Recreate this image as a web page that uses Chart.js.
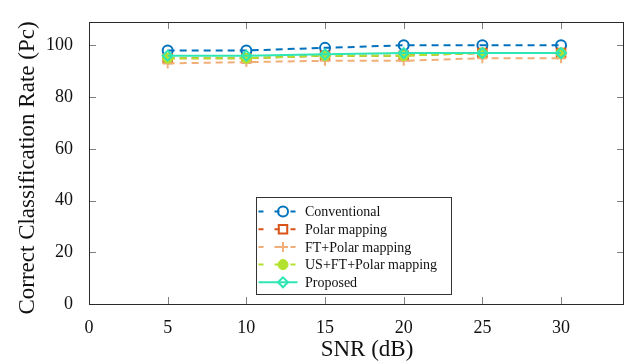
<!DOCTYPE html>
<html>
<head>
<meta charset="utf-8">
<script src="https://cdn.jsdelivr.net/npm/chart.js@4/dist/chart.umd.min.js"></script>
<style>
  html, body { margin: 0; padding: 0; background: #ffffff; }
  #wrap { width: 626px; height: 363px; position: relative; }
</style>
</head>
<body>
<div id="wrap"><canvas id="c"></canvas></div>
<script>
// SNR sweep (dB) and classification rates per method
const snr = [5, 10, 15, 20, 25, 30];
const conventional = [98, 98, 99, 100, 100, 100];
const polarMapping = [95, 95, 96, 96, 97, 97];
const ftPolarMapping = [93, 93.5, 94, 94, 95, 95];
const usFtPolarMapping = [95, 95, 96, 96, 97, 97];
const proposed = [96, 96, 96.5, 97, 97, 97];

const seriesNames = ['Conventional', 'Polar mapping', 'FT+Polar mapping', 'US+FT+Polar mapping', 'Proposed'];
const xTitle = 'SNR (dB)';
const yTitle = 'Correct Classification Rate (Pc)';

const SERIF = '"Liberation Serif", "DejaVu Serif", serif';

function pts(values) {
  return snr.map((x, i) => ({ x: x, y: values[i] }));
}

const datasets = [
  {
    label: seriesNames[0], data: pts(conventional),
    borderColor: '#0072BD', borderWidth: 2, borderDash: [7, 5],
    pointStyle: 'circle', pointRadius: 5, pointBorderWidth: 2,
    pointBorderColor: '#0072BD', pointBackgroundColor: 'rgba(0,0,0,0)', order: 5
  },
  {
    label: seriesNames[1], data: pts(polarMapping),
    borderColor: '#D95319', borderWidth: 2, borderDash: [7, 5],
    pointStyle: 'rect', pointRadius: 6, pointBorderWidth: 2,
    pointBorderColor: '#D95319', pointBackgroundColor: 'rgba(0,0,0,0)', order: 4
  },
  {
    label: seriesNames[2], data: pts(ftPolarMapping),
    borderColor: '#F2AE78', borderWidth: 2, borderDash: [7, 5],
    pointStyle: 'cross', pointRadius: 5, pointBorderWidth: 2,
    pointBorderColor: '#F2AE78', pointBackgroundColor: '#F2AE78', order: 3
  },
  {
    label: seriesNames[3], data: pts(usFtPolarMapping),
    borderColor: '#B2E22E', borderWidth: 2, borderDash: [7, 5],
    pointStyle: 'circle', pointRadius: 5, pointBorderWidth: 1,
    pointBorderColor: '#B2E22E', pointBackgroundColor: '#B2E22E', order: 2
  },
  {
    label: seriesNames[4], data: pts(proposed),
    borderColor: '#2EE6B4', borderWidth: 2, borderDash: [],
    pointStyle: 'rectRot', pointRadius: 5, pointBorderWidth: 2,
    pointBorderColor: '#2EE6B4', pointBackgroundColor: 'rgba(0,0,0,0)', order: 1
  }
];

// Frame, inward tick marks on all four sides, boxed legend and axis titles
const decorations = {
  id: 'decorations',
  afterDraw(chart) {
    const ctx = chart.ctx;
    const a = chart.chartArea;
    const xs = chart.scales.x, ys = chart.scales.y;
    ctx.save();

    // inward ticks
    ctx.strokeStyle = 'rgba(0,0,0,0.5)';
    ctx.lineWidth = 1;
    ctx.setLineDash([]);
    const tl = 7;
    xs.ticks.forEach(t => {
      const px = Math.round(xs.getPixelForValue(t.value)) + 0.5;
      ctx.beginPath();
      ctx.moveTo(px, a.bottom); ctx.lineTo(px, a.bottom - tl);
      ctx.moveTo(px, a.top); ctx.lineTo(px, a.top + tl);
      ctx.stroke();
    });
    ys.ticks.forEach(t => {
      const py = Math.round(ys.getPixelForValue(t.value)) + 0.5;
      ctx.beginPath();
      ctx.moveTo(a.left, py); ctx.lineTo(a.left + tl, py);
      ctx.moveTo(a.right, py); ctx.lineTo(a.right - tl, py);
      ctx.stroke();
    });

    // frame
    ctx.strokeStyle = '#2a2a2a';
    ctx.lineWidth = 1;
    ctx.strokeRect(Math.round(a.left) + 0.5, Math.round(a.top) + 0.5,
                   Math.round(a.right - a.left) - 1, Math.round(a.bottom - a.top));

    // legend
    const bx = 256.5, by = 197.5, bw = 195, bh = 97;
    ctx.fillStyle = '#ffffff';
    ctx.fillRect(bx, by, bw, bh);
    ctx.strokeStyle = '#333333';
    ctx.strokeRect(bx, by, bw, bh);
    ctx.font = '14px ' + SERIF;
    ctx.textBaseline = 'middle';
    ctx.textAlign = 'left';
    chart.data.datasets.forEach((ds, i) => {
      const ry = 211.5 + i * 17.7;
      ctx.save();
      ctx.strokeStyle = ds.borderColor;
      ctx.lineWidth = ds.borderWidth;
      ctx.setLineDash(ds.borderDash.length ? [5, 11] : []);
      ctx.beginPath();
      ctx.moveTo(bx + 2, ry);
      ctx.lineTo(bx + 41, ry);
      ctx.stroke();
      ctx.setLineDash([]);
      ctx.strokeStyle = ds.pointBorderColor;
      ctx.fillStyle = ds.pointBackgroundColor;
      ctx.lineWidth = ds.pointBorderWidth;
      Chart.helpers.drawPoint(ctx, {
        pointStyle: ds.pointStyle, radius: ds.pointRadius,
        borderWidth: ds.pointBorderWidth, rotation: 0
      }, bx + 26.5, ry);
      ctx.restore();
      ctx.fillStyle = '#111111';
      ctx.fillText(ds.label, 305, ry + 1);
    });

    // axis titles
    ctx.fillStyle = '#111111';
    ctx.textAlign = 'center';
    ctx.textBaseline = 'middle';
    ctx.font = '23px ' + SERIF;
    ctx.fillText(xTitle, 367, 350);
    ctx.save();
    ctx.translate(28, 168);
    ctx.rotate(-Math.PI / 2);
    ctx.fillText(yTitle, 0, 0);
    ctx.restore();

    ctx.restore();
  }
};

new Chart(document.getElementById('c'), {
  type: 'line',
  data: { datasets: datasets },
  plugins: [decorations],
  options: {
    responsive: true,
    maintainAspectRatio: false,
    animation: false,
    events: [],
    layout: { autoPadding: false, padding: { top: 22, right: 2, bottom: 0, left: 0 } },
    plugins: { legend: { display: false }, tooltip: { enabled: false } },
    scales: {
      x: {
        type: 'linear', min: 0, max: 34,
        grid: { display: false },
        border: { display: false },
        ticks: {
          stepSize: 5, includeBounds: false, maxRotation: 0, autoSkip: false,
          padding: 5, color: '#111111', font: { family: SERIF, size: 18 }
        },
        afterFit(s) { s.height = 59; s.paddingLeft = 0; s.paddingRight = 0; }
      },
      y: {
        type: 'linear', min: 0, max: 109,
        grid: { display: false },
        border: { display: false },
        ticks: {
          stepSize: 20, includeBounds: false, autoSkip: false,
          padding: 8, color: '#111111', font: { family: SERIF, size: 18 }
        },
        afterFit(s) { s.width = 89; s.paddingTop = 0; s.paddingBottom = 0; }
      }
    }
  }
});
</script>
</body>
</html>
